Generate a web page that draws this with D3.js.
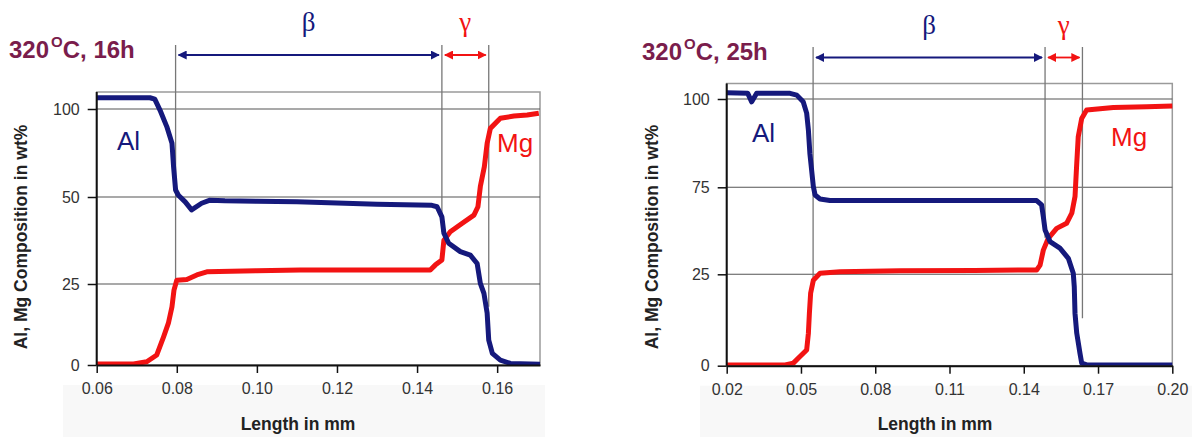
<!DOCTYPE html>
<html>
<head>
<meta charset="utf-8">
<script src="https://cdn.jsdelivr.net/npm/d3@7/dist/d3.min.js"></script>
<style>
  body { margin: 0; background: #fff; }
  svg { display: block; font-family: "Liberation Sans", Arial, sans-serif; }
</style>
</head>
<body>
<script>
'use strict';

// composition profiles, [length in mm, wt%]
const al16 = [[0.060,106.4],[0.0733,106.4],[0.0745,105.6],[0.0758,99.4],[0.0775,90],[0.0788,80.5],
  [0.0792,67.2],[0.0797,54],[0.0804,51],[0.0821,48.6],[0.0837,46.3],[0.0862,48.2],[0.0883,49.1],
  [0.092,48.9],[0.100,48.8],[0.110,48.6],[0.120,48.3],[0.130,47.9],[0.1437,47.6],[0.1450,47.2],
  [0.1462,44.3],[0.1467,39.6],[0.1479,36.7],[0.1508,34.3],[0.1533,33.3],[0.1550,30.9],[0.1558,25.2],
  [0.1567,22.1],[0.1575,16],[0.1579,7.7],[0.1588,3.6],[0.1608,1.5],[0.1633,0.5],[0.1707,0.2]];

const mg16 = [[0.060,0.3],[0.0692,0.3],[0.0725,1],[0.075,3.1],[0.0767,8.7],[0.0779,12.9],[0.0788,18],
  [0.0793,23.1],[0.080,26.1],[0.0825,26.3],[0.085,27.6],[0.0875,28.5],[0.100,28.8],[0.1108,29.0],
  [0.130,29.0],[0.1433,29.0],[0.1446,30.5],[0.1462,31.9],[0.1467,37.6],[0.1483,40],[0.1512,42.4],
  [0.1542,44.8],[0.1552,47.2],[0.1558,55.9],[0.1568,67.2],[0.1575,80.5],[0.1583,89],[0.1608,94.7],
  [0.1642,96],[0.1675,96.6],[0.1704,97.6]];

const al25 = [[0.020,101.8],[0.0285,101.6],[0.0301,99.2],[0.0321,101.6],[0.0456,101.6],[0.0483,101.1],
  [0.0509,99.2],[0.0523,96],[0.053,91.2],[0.0536,84.6],[0.0543,79.9],[0.055,75.2],[0.0557,70.6],
  [0.0577,68.3],[0.0617,67.4],[0.090,67.4],[0.120,67.4],[0.1452,67.4],[0.1472,64.9],[0.1479,58.2],
  [0.1486,50.5],[0.1506,43.8],[0.1546,40],[0.158,34.2],[0.160,25.6],[0.1604,21.6],[0.1607,14.3],
  [0.1614,8.9],[0.1627,3.4],[0.1634,0.7],[0.1654,0.2],[0.200,0.2]];

const mg25 = [[0.020,0.2],[0.0436,0.2],[0.0469,0.7],[0.0496,2.5],[0.0523,4.3],[0.053,8.9],[0.0534,14.3],
  [0.0539,19.8],[0.055,23.4],[0.0577,25.6],[0.0658,26.5],[0.090,27.0],[0.120,27.2],[0.1452,27.5],
  [0.1466,30.3],[0.1479,38.9],[0.1499,45.7],[0.1533,51.4],[0.1573,54.3],[0.1594,60.1],[0.1607,69.7],
  [0.1614,81.8],[0.162,89.3],[0.1634,94.5],[0.1654,96.9],[0.1762,97.6],[0.1897,97.8],[0.200,98]];

// phase boundaries (mm) and where each boundary line stops (wt%)
const bounds16 = [0.0797, 0.1462, 0.1579];
const boundEnds16 = [24, 40, 18];
const bounds25 = [0.0549, 0.1486, 0.1637];
const boundEnds25 = [22, 46, 13];

// tick values
const xTicks16 = [0.06, 0.08, 0.10, 0.12, 0.14, 0.16];
const xTicks25 = [0.02, 0.05, 0.08, 0.11, 0.14, 0.17, 0.20];
const yTicks16 = [0, 25, 50, 100];
const yTicks25 = [0, 25, 75, 100];

const titles = ['16h', '25h'];

const colors = { al: '#15197c', mg: '#f21313', title: '#7a1d4c' };

const svg = d3.select('body').append('svg')
    .attr('width', 1192)
    .attr('height', 437);

// arrow heads
const defs = svg.append('defs');
[['al', colors.al], ['mg', colors.mg]].forEach(([k, c]) => {
  defs.append('marker')
      .attr('id', 'arrow-' + k)
      .attr('viewBox', '0 0 10 10')
      .attr('refX', 9).attr('refY', 5)
      .attr('markerWidth', 5).attr('markerHeight', 5)
      .attr('orient', 'auto-start-reverse')
    .append('path')
      .attr('d', 'M0,0L10,5L0,10z')
      .attr('fill', c);
});

const panels = [
  { id: 0, al: al16, mg: mg16, bounds: bounds16, boundEnds: boundEnds16,
    xTicks: xTicks16, yTicks: yTicks16, xDomain: [0.06, 0.1707], xfmt: '.2f',
    left: 96.7, right: 540, top: 92, yRange: [365, 284, 197, 109],
    band: [63, 545], titleX: 9, titleY: 58, lineTop: 45, arrowY: 55,
    xTitleX: 298, yTitleX: 21, alLabel: [117, 150], mgLabel: [497, 152], greekY: 31 },
  { id: 1, al: al25, mg: mg25, bounds: bounds25, boundEnds: boundEnds25,
    xTicks: xTicks25, yTicks: yTicks25, xDomain: [0.02, 0.20], xfmt: '.2f',
    left: 726.7, right: 1172.3, top: 83.5, yRange: [365.7, 274.3, 187.3, 99],
    band: [700, 1192], titleX: 642, titleY: 60, lineTop: 47, arrowY: 57.5,
    xTitleX: 935, yTitleX: 652, alLabel: [752, 142], mgLabel: [1111, 146], greekY: 34 }
];

panels.forEach(drawPanel);

function drawPanel(p) {
  const bottom = p.yRange[0];
  const x = d3.scaleLinear().domain(p.xDomain).range([p.left, p.right]);
  const y = d3.scaleLinear().domain(p.yTicks).range(p.yRange);

  const g = svg.append('g').attr('class', 'panel-' + p.id);

  // faint band under the axis
  g.append('rect')
      .attr('x', p.band[0]).attr('y', bottom + 20)
      .attr('width', p.band[1] - p.band[0]).attr('height', 437 - bottom - 20)
      .attr('fill', '#f8f8f8');

  // plot frame
  g.append('rect')
      .attr('x', p.left).attr('y', p.top)
      .attr('width', p.right - p.left).attr('height', bottom - p.top)
      .attr('fill', '#fff')
      .attr('stroke', '#9a9a9a')
      .attr('stroke-width', 1.5);

  // horizontal grid
  g.append('g').selectAll('line')
    .data(p.yTicks.slice(1))
    .join('line')
      .attr('x1', p.left).attr('x2', p.right)
      .attr('y1', d => y(d)).attr('y2', d => y(d))
      .attr('stroke', '#555')
      .attr('stroke-width', 1.1);

  // phase boundary lines
  g.append('g').selectAll('line')
    .data(p.bounds)
    .join('line')
      .attr('x1', d => x(d)).attr('x2', d => x(d))
      .attr('y1', p.lineTop)
      .attr('y2', (d, i) => y(p.boundEnds[i]))
      .attr('stroke', '#777')
      .attr('stroke-width', 1.3);

  // beta / gamma arrows
  const b = p.bounds;
  g.append('line')
      .attr('x1', x(b[0]) + 3).attr('x2', x(b[1]) - 3)
      .attr('y1', p.arrowY).attr('y2', p.arrowY)
      .attr('stroke', colors.al).attr('stroke-width', 1.8)
      .attr('marker-start', 'url(#arrow-al)')
      .attr('marker-end', 'url(#arrow-al)');
  g.append('line')
      .attr('x1', x(b[1]) + 3).attr('x2', x(b[2]) - 3)
      .attr('y1', p.arrowY).attr('y2', p.arrowY)
      .attr('stroke', colors.mg).attr('stroke-width', 1.8)
      .attr('marker-start', 'url(#arrow-mg)')
      .attr('marker-end', 'url(#arrow-mg)');

  g.append('text')
      .attr('x', (x(b[0]) + x(b[1])) / 2).attr('y', p.greekY)
      .attr('text-anchor', 'middle')
      .attr('font-family', '"Liberation Serif", serif')
      .attr('font-size', 27)
      .attr('fill', colors.al)
      .text('β');
  g.append('text')
      .attr('x', (x(b[1]) + x(b[2])) / 2).attr('y', p.greekY)
      .attr('text-anchor', 'middle')
      .attr('font-family', '"Liberation Serif", serif')
      .attr('font-size', 27)
      .attr('fill', colors.mg)
      .text('γ');

  // clip for profiles
  defs.append('clipPath')
      .attr('id', 'clip-' + p.id)
    .append('rect')
      .attr('x', p.left).attr('y', p.top)
      .attr('width', p.right - p.left + 2).attr('height', bottom - p.top);

  const line = d3.line().x(d => x(d[0])).y(d => y(d[1]));
  const inner = g.append('g').attr('clip-path', `url(#clip-${p.id})`);

  inner.append('path')
      .datum(p.mg)
      .attr('d', line)
      .attr('fill', 'none')
      .attr('stroke', colors.mg)
      .attr('stroke-width', 5)
      .attr('stroke-linejoin', 'round');
  inner.append('path')
      .datum(p.al)
      .attr('d', line)
      .attr('fill', 'none')
      .attr('stroke', colors.al)
      .attr('stroke-width', 5)
      .attr('stroke-linejoin', 'round');

  // axes
  const xAxis = g.append('g')
      .attr('transform', `translate(0,${bottom})`)
      .call(d3.axisBottom(x).tickValues(p.xTicks).tickFormat(d3.format(p.xfmt))
        .tickSizeInner(8).tickSizeOuter(0).tickPadding(10));
  const yAxis = g.append('g')
      .attr('transform', `translate(${p.left},0)`)
      .call(d3.axisLeft(y).tickValues(p.yTicks).tickFormat(d3.format('d'))
        .tickSizeInner(9).tickSizeOuter(0).tickPadding(8));

  [xAxis, yAxis].forEach(a => {
    a.select('.domain').attr('stroke', '#111').attr('stroke-width', 2);
    a.selectAll('.tick line').attr('stroke', '#111').attr('stroke-width', 1.5);
    a.selectAll('.tick text')
        .attr('fill', '#333')
        .attr('font-size', 16)
        .attr('font-family', '"Liberation Sans", Arial, sans-serif');
  });
  yAxis.select('.domain').attr('d', `M0,${bottom}V${p.top}`);

  // axis titles
  g.append('text')
      .attr('x', p.xTitleX).attr('y', 430)
      .attr('text-anchor', 'middle')
      .attr('font-weight', 'bold')
      .attr('font-size', 17.5)
      .attr('fill', '#222')
      .text('Length in mm');
  g.append('text')
      .attr('transform', `translate(${p.yTitleX},237) rotate(-90)`)
      .attr('dy', '0.35em')
      .attr('text-anchor', 'middle')
      .attr('font-weight', 'bold')
      .attr('font-size', 17.5)
      .attr('fill', '#222')
      .text('Al, Mg Composition in wt%');

  // series labels
  g.append('text')
      .attr('x', p.alLabel[0]).attr('y', p.alLabel[1])
      .attr('font-size', 26)
      .attr('fill', colors.al)
      .text('Al');
  g.append('text')
      .attr('x', p.mgLabel[0]).attr('y', p.mgLabel[1])
      .attr('font-size', 26)
      .attr('fill', colors.mg)
      .text('Mg');

  // panel title
  const t = g.append('text')
      .attr('x', p.titleX).attr('y', p.titleY)
      .attr('font-weight', 'bold')
      .attr('font-size', 24)
      .attr('fill', colors.title);
  t.append('tspan').text('320');
  t.append('tspan').attr('font-size', 15).attr('dy', -11).attr('dx', 2).text('O');
  t.append('tspan').attr('dy', 11).text('C, ' + titles[p.id]);
}
</script>
</body>
</html>
